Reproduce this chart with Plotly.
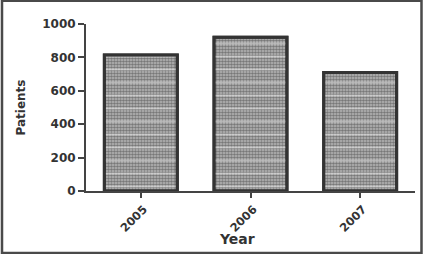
import plotly.graph_objects as go

years = ["2005", "2006", "2007"]
patients = [815, 920, 710]
y_ticks = [0, 200, 400, 600, 800, 1000]

W, H = 425, 254
ML, MR, MT, MB = 86, 10, 24, 63

fig = go.Figure()
fig.add_trace(go.Bar(
    x=years, y=patients, width=0.665,
    marker=dict(color="#a8a8a8",
                line=dict(color="#333333", width=3),
                pattern=dict(shape=".", fgcolor="#363636", bgcolor="#bababa",
                             size=3, solidity=0.6)),
    showlegend=False,
))
fig.add_trace(go.Bar(
    x=years, y=patients, width=0.665,
    marker=dict(color="rgba(0,0,0,0)",
                line=dict(color="#333333", width=3),
                pattern=dict(shape="-", fgcolor="rgba(255,255,255,0.85)",
                             bgcolor="rgba(0,0,0,0)", size=13, solidity=0.14)),
    showlegend=False,
))

txt = "#333333"
axis_font = dict(family="DejaVu Sans", size=12, color=txt, weight="bold")
fig.update_layout(
    width=W, height=H,
    margin=dict(l=ML, r=MR, t=MT, b=MB),
    paper_bgcolor="white", plot_bgcolor="white",
    barmode="overlay",
    xaxis=dict(type="category", range=[-0.5, 2.5], showgrid=False,
               showline=True, linecolor="#444444", linewidth=2,
               ticks="outside", ticklen=5, tickwidth=2, tickcolor="#444444",
               tickangle=-45, ticklabelstandoff=0, ticklabelshift=3,
               tickfont=dict(family="DejaVu Sans", size=11.5,
                             color=txt, weight="bold"),
               zeroline=False),
    yaxis=dict(range=[0, 1000], tickvals=y_ticks, showgrid=False,
               showline=True, linecolor="#444444", linewidth=2,
               ticks="outside", ticklen=6, tickwidth=2, tickcolor="#444444",
               tickfont=axis_font, zeroline=False,
               title=dict(text="Patients", standoff=14,
                          font=dict(family="DejaVu Sans", size=12,
                                    color=txt, weight="bold"))),
)

pw = W - ML - MR
ph = H - MT - MB
fig.add_annotation(text="Year", xref="paper", yref="paper",
                   x=(236.5 - ML) / pw, y=-(239 - (H - MB)) / ph,
                   showarrow=False, xanchor="center", yanchor="middle",
                   font=dict(family="DejaVu Sans", size=14, color=txt,
                             weight="bold"))
# outer frame
fig.add_shape(type="rect", xref="paper", yref="paper",
              x0=(2 - ML) / pw, x1=(421.5 - ML) / pw,
              y0=(H - 253 - MB) / ph, y1=(H - 0.8 - MB) / ph,
              line=dict(color="#4a4a4a", width=2.5), layer="below")

fig.write_html("out.html")
